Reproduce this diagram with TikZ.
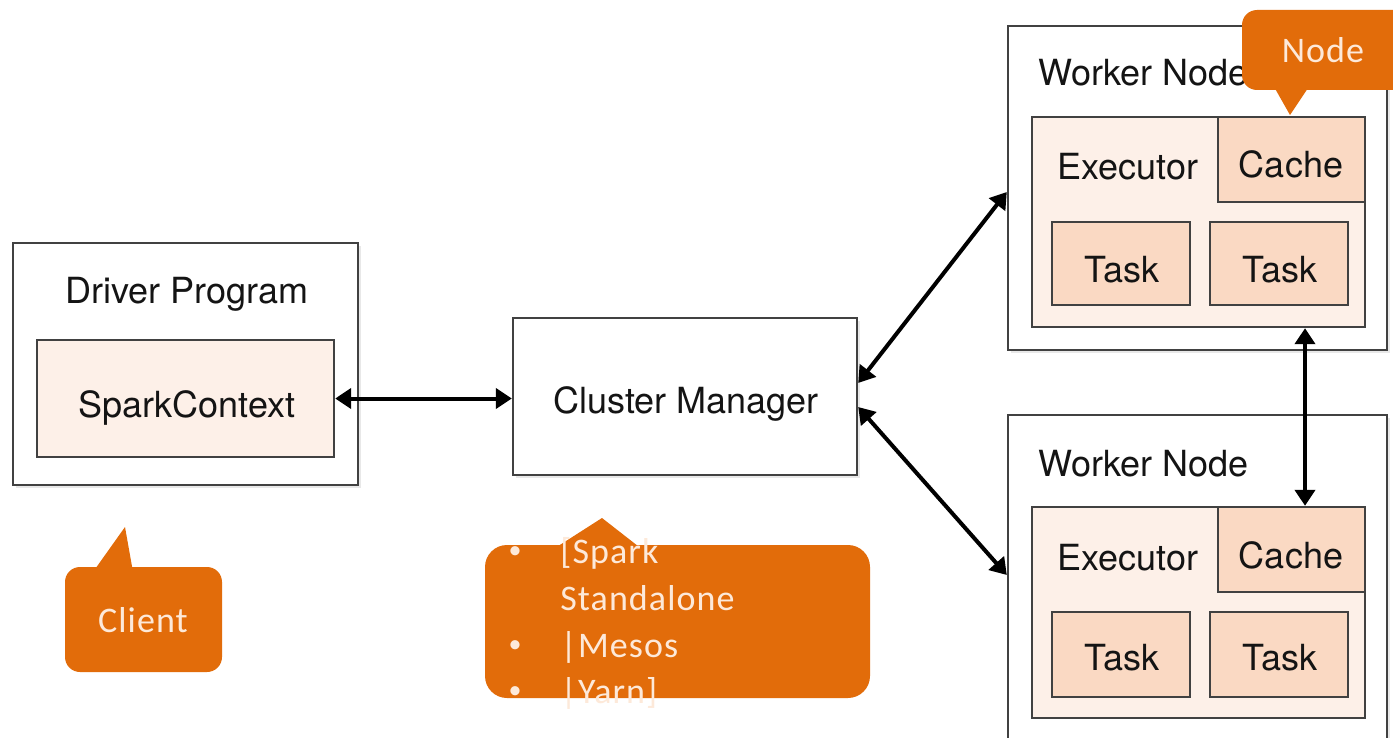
\documentclass[tikz,border=0pt]{standalone}
\usepackage{fontspec}
\setmainfont{TeX Gyre Heros}
\newfontfamily\callfont[LetterSpace=3]{Carlito}
\usetikzlibrary{arrows.meta,fit,shadows}
\definecolor{orng}{RGB}{226,108,10}
\definecolor{calltxt}{RGB}{253,233,217}
\definecolor{execfill}{RGB}{253,240,232}
\definecolor{taskfill}{RGB}{250,217,195}
\definecolor{edge}{RGB}{65,65,65}
\definecolor{ink}{RGB}{20,20,20}
\begin{document}
\begin{tikzpicture}[x=0.5pt,y=-0.5pt,
 outerbox/.style={draw=edge, line width=1.2pt, fill=white, inner sep=0pt,
   drop shadow={shadow xshift=1.5pt,shadow yshift=-1.5pt,opacity=0.18}},
 execbox/.style={draw=edge, line width=1.2pt, fill=execfill, inner sep=0pt},
 taskbox/.style={draw=edge, line width=1.2pt, fill=taskfill, inner sep=0pt},
 lbl/.style={font=\fontsize{18}{21}\selectfont, text=ink, inner sep=0pt},
 callbox/.style={fill=orng, inner sep=0pt},
 calllbl/.style={font=\callfont\fontsize{18}{22}\selectfont, text=calltxt, inner sep=0pt},
 bulletlbl/.style={font=\callfont\fontsize{13}{16}\selectfont, text=calltxt, inner sep=0pt},
 link/.style={line width=2pt, {Triangle[length=8pt,width=10pt]}-{Triangle[length=8pt,width=10pt]}}
]
\useasboundingbox (0,0) rectangle (1393,738);
\clip (0,0) rectangle (1393,738);
\fill[white] (0,0) rectangle (1393,738);

% Driver program
\node[outerbox, fit={(13,243)(358,485)}] (driver) {};
\node[lbl, anchor=base] (driverlbl) at (187,303) {Driver Program};
\node[execbox, fit={(37,340)(334,457)}] (spark) {};
\node[lbl, anchor=base] (sparklbl) at (187,417) {SparkContext};

% Cluster manager
\node[outerbox, fit={(513,318)(857,475)}] (cm) {};
\node[lbl, anchor=base] (cmlbl) at (686,413) {Cluster Manager};

% Worker node 1
\node[outerbox, fit={(1008,26)(1387,350)}] (w1) {};
\node[lbl, anchor=base west] (w1lbl) at (1038,86) {Worker Node};
\node[execbox, fit={(1032,117)(1365,327)}] (exec1) {};
\node[lbl, anchor=base west] (exec1lbl) at (1057,180) {Executor};
\node[taskbox, fit={(1218,117)(1365,202)}] (cache1) {};
\node[lbl, anchor=base] (cache1lbl) at (1291,177) {Cache};
\node[taskbox, fit={(1052,222)(1190,305)}] (task1a) {};
\node[lbl, anchor=base] (task1albl) at (1122,282) {Task};
\node[taskbox, fit={(1210,222)(1348,305)}] (task1b) {};
\node[lbl, anchor=base] (task1blbl) at (1280,282) {Task};

% Worker node 2
\node[outerbox, fit={(1008,415)(1387,750)}] (w2) {};
\node[lbl, anchor=base west] (w2lbl) at (1038,476) {Worker Node};
\node[execbox, fit={(1032,507)(1365,718)}] (exec2) {};
\node[lbl, anchor=base west] (exec2lbl) at (1057,570) {Executor};
\node[taskbox, fit={(1218,507)(1365,592)}] (cache2) {};
\node[lbl, anchor=base] (cache2lbl) at (1291,568) {Cache};
\node[taskbox, fit={(1052,612)(1190,697)}] (task2a) {};
\node[lbl, anchor=base] (task2albl) at (1122,670) {Task};
\node[taskbox, fit={(1210,612)(1348,697)}] (task2b) {};
\node[lbl, anchor=base] (task2blbl) at (1280,670) {Task};

% Connectors
\draw[link] (spark.east) -- (spark.east -| cm.west);
\draw[link] ([yshift=6.75pt]cm.east) -- ([yshift=-2pt]w1.west);
\draw[link] ([yshift=-5.25pt]cm.east) -- ([yshift=3.75pt]w2.west);
\coordinate (vtop) at ([xshift=6.75pt]cache2.north |- exec1.south);
\draw[link] (vtop) -- ([xshift=6.75pt]cache2.north);

% Client callout
\node[callbox, rounded corners=7.5pt, fit={(65,567)(222,672)}] (clientbox) {};
\fill[orng] (93,572) -- (125,527) -- (133,572) -- cycle;
\node[calllbl, anchor=base] (clientlbl) at (143,632) {Client};

% Cluster manager callout
\node[callbox, rounded corners=11pt, fit={(485,545)(870,698)}] (cmcall) {};
\fill[orng] (552,550) -- (602,518) -- (643,550) -- cycle;
\node[bulletlbl, anchor=base] (b1) at (515,558) {•};
\node[calllbl, anchor=base west] (t1) at (560,563) {[Spark};
\node[calllbl, anchor=base west] (t2) at (560,610) {Standalone};
\node[bulletlbl, anchor=base] (b3) at (515,652) {•};
\node[calllbl, anchor=base west] (t3) at (560,657) {|Mesos};
\node[bulletlbl, anchor=base] (b4) at (515,698) {•};
\node[calllbl, anchor=base west] (t4) at (560,703) {|Yarn]};

% Node callout
\node[callbox, rounded corners=7.5pt, fit={(1242,10)(1420,90)}] (nodecall) {};
\fill[orng] (1273,85) -- (1290,115) -- (1310,85) -- cycle;
\node[calllbl, anchor=base] (nodelbl) at (1323,63) {Node};
\end{tikzpicture}
\end{document}
